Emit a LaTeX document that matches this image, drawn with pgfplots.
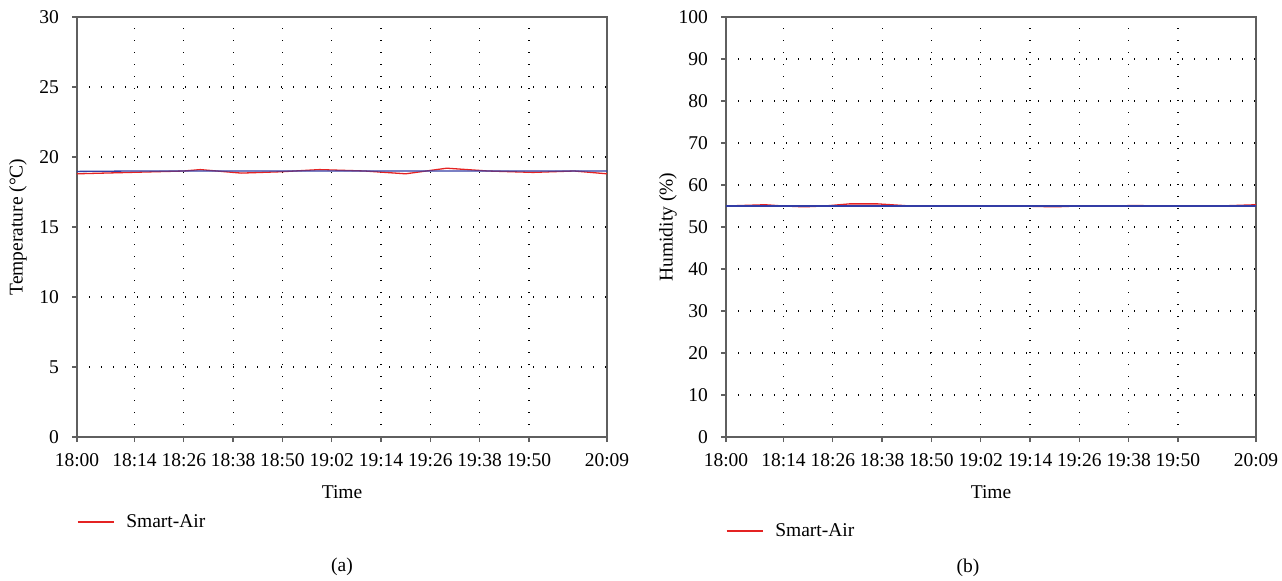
\documentclass[border=0pt]{standalone}
\usepackage{pgfplots}
\pgfplotsset{compat=1.18}
\usepackage{fontspec}
\setmainfont{Liberation Serif}
\definecolor{lred}{RGB}{228,35,35}
\definecolor{lblue}{RGB}{50,60,165}
\definecolor{axgray}{RGB}{95,95,95}
\pgfplotsset{
  myaxis/.style={
    scale only axis, width=530pt, height=420pt,
    anchor=south west,
    font=\fontsize{19.5}{23}\selectfont,
    /pgf/number format/assume math mode=true,
    axis line style={axgray, line width=1.3pt},
    xmin=0, xmax=129,
    xtick={0,14,26,38,50,62,74,86,98,110,129},
    xticklabels={18:00,18:14,18:26,18:38,18:50,19:02,19:14,19:26,19:38,19:50,20:09},
    tick align=outside, tick pos=left,
    major tick length=5pt,
    xtick style={draw=axgray, line width=1.3pt},
    ytick style={draw=axgray, line width=1.3pt},
    grid=major,
    major grid style={black, line width=1.2pt, dash pattern=on 1.4pt off 10.6pt},
    xticklabel style={inner sep=0pt, anchor=north, yshift=-11pt},
    yticklabel style={inner sep=0pt, anchor=east, xshift=-13pt},
    xlabel={Time},
    xlabel style={at={(axis description cs:0.5,0)}, anchor=center, yshift=-55pt},
    ylabel style={at={(axis description cs:0,0.5)}, anchor=center},
    legend image code/.code={\draw[#1] (0pt,0pt) -- (36pt,0pt);},
    legend style={draw=none, fill=none, inner sep=0pt, outer sep=0pt,
      nodes={inner sep=0pt, font=\fontsize{19.5}{23}\selectfont},
      /tikz/every odd column/.append style={column sep=12pt}},
  }
}
\begin{document}
\begin{tikzpicture}
\path (0pt,0pt) rectangle (1282pt,580pt);
\begin{axis}[myaxis, at={(77pt,143pt)},
  ymin=0, ymax=30, ytick={0,5,10,15,20,25,30},
  ylabel={Temperature (°C)},
  ylabel style={at={(axis description cs:-0.1113,0.5)}},
  legend style={at={(axis description cs:0,-0.2024)}, anchor=west}]
\addplot[lred, line width=1.3pt] coordinates {
(0,18.8) (13,18.9) (26,19.0) (30,19.1) (40,18.85) (50,18.95) (59,19.1) (70,19.0)
(80,18.8) (90,19.2) (100,19.0) (111,18.9) (121,19.0) (129,18.8)};
\addlegendentry{Smart-Air}
\addplot[lblue, line width=1.3pt, forget plot] coordinates {
(0,18.97) (14,19.0) (26,19.0) (38,19.0) (50,19.0) (62,19.0) (74,19.0) (86,19.0)
(98,19.0) (110,19.0) (129,19.0)};
\end{axis}
\begin{axis}[myaxis, at={(726pt,143pt)},
  ymin=0, ymax=100, ytick={0,10,20,30,40,50,60,70,80,90,100},
  ylabel={Humidity (\%)},
  ylabel style={at={(axis description cs:-0.1094,0.5)}},
  legend style={at={(axis description cs:0,-0.2238)}, anchor=west}]
\addplot[lred, line width=1.3pt] coordinates {
(0,55.0) (9.5,55.3) (14,55.0) (19,54.8) (24,55.0) (30,55.5) (37,55.5) (45,55.0)
(60,55.0) (73,54.95) (80,54.8) (86,55.0) (100,55.1) (110,55.0) (120,55.0) (129,55.3)};
\addlegendentry{Smart-Air}
\addplot[lblue, line width=1.3pt, forget plot] coordinates {
(0,55.0) (14,55.0) (26,55.0) (38,55.0) (50,55.0) (62,55.0) (74,55.0) (86,55.0)
(98,55.0) (110,55.0) (129,55.0)};
\end{axis}
\node[font=\fontsize{19.5}{23}\selectfont] at (342pt,13pt) {(a)};
\node[font=\fontsize{19.5}{23}\selectfont] at (968pt,12pt) {(b)};
\end{tikzpicture}
\end{document}
